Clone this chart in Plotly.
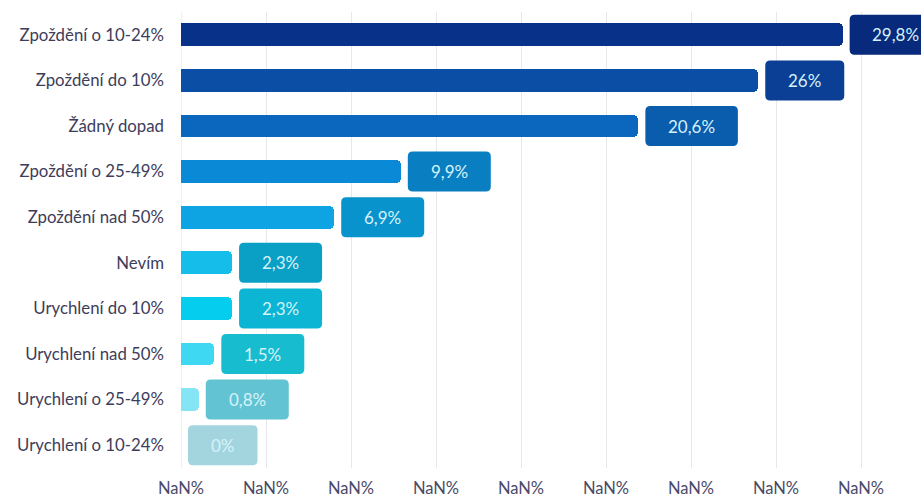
import plotly.graph_objects as go

# Survey answers (top to bottom) and their shares in percent
categories = [
    "Zpoždění o 10-24%",
    "Zpoždění do 10%",
    "Žádný dopad",
    "Zpoždění o 25-49%",
    "Zpoždění nad 50%",
    "Nevím",
    "Urychlení do 10%",
    "Urychlení nad 50%",
    "Urychlení o 25-49%",
    "Urychlení o 10-24%",
]
values = [29.8, 26.0, 20.6, 9.9, 6.9, 2.3, 2.3, 1.5, 0.8, 0.0]
value_labels = ["29,8%", "26%", "20,6%", "9,9%", "6,9%", "2,3%", "2,3%", "1,5%", "0,8%", "0%"]
axis_tick_labels = ["NaN%"] * 9

bar_colors = ["#08318a", "#0b4ea6", "#0b67bd", "#0a8ad6", "#0ea3e3",
              "#14bdea", "#04cdee", "#3ed8f2", "#86e5f5", "#b5eef8"]
badge_colors = ["#072a7c", "#0a3f95", "#0a5cad", "#097fc2", "#0993cc",
                "#0aa0c6", "#0bb5d3", "#17bccf", "#62c4d3", "#a3d5de"]

W, H = 921, 499
M_L, M_R, M_T, M_B = 181, 0, 12, 31
plot_w = W - M_L - M_R
plot_h = H - M_T - M_B
x_max = 33.33                     # axis range in percent
px_x = plot_w / x_max             # pixels per percent
px_y = plot_h / len(categories)   # pixels per row
grid_step = 85 / px_x             # gridline spacing in percent

FONT = "Lato, 'Open Sans', sans-serif"

rows = list(range(len(categories)))

fig = go.Figure()
fig.add_trace(go.Bar(
    y=rows, x=values, orientation="h",
    width=0.5,
    marker=dict(color=bar_colors, cornerradius=5, line=dict(width=0)),
    hoverinfo="skip", showlegend=False,
))


def text_px(label):
    w = 0
    for ch in label:
        if ch.isdigit():
            w += 9.5
        elif ch == ",":
            w += 4
        elif ch == "%":
            w += 13
    return w


def rounded_rect(x0, x1, y0, y1, r_px):
    rx = r_px / px_x
    ry = r_px / px_y
    return (f"M {x0 + rx},{y0} L {x1 - rx},{y0} Q {x1},{y0} {x1},{y0 + ry} "
            f"L {x1},{y1 - ry} Q {x1},{y1} {x1 - rx},{y1} "
            f"L {x0 + rx},{y1} Q {x0},{y1} {x0},{y1 - ry} "
            f"L {x0},{y0 + ry} Q {x0},{y0} {x0 + rx},{y0} Z")


# value badges next to each bar
gap = 7 / px_x
half_h = 0.5 * 40 / px_y
for i, (v, lab) in enumerate(zip(values, value_labels)):
    x0 = v + gap
    x1 = x0 + (text_px(lab) + 47) / px_x
    fig.add_shape(type="path", xref="x", yref="y",
                  path=rounded_rect(x0, x1, i - half_h, i + half_h, 5),
                  fillcolor=badge_colors[i], line=dict(width=0), layer="above")
    fig.add_annotation(x=(x0 + x1) / 2, y=i, xref="x", yref="y", text=lab,
                       showarrow=False,
                       font=dict(family=FONT, size=17, color="#d6f2fb"))

fig.update_layout(
    width=W, height=H,
    margin=dict(l=M_L, r=M_R, t=M_T, b=M_B),
    paper_bgcolor="white", plot_bgcolor="white",
    bargap=0,
    xaxis=dict(
        range=[0, x_max],
        tickvals=[k * grid_step for k in range(len(axis_tick_labels))],
        ticktext=axis_tick_labels,
        showgrid=True, gridcolor="#e8e8ec", gridwidth=1,
        zeroline=False, showline=False,
        tickfont=dict(family=FONT, size=16.5, color="#4a4a68"),
        ticklabelstandoff=8,
        fixedrange=True,
    ),
    yaxis=dict(
        range=[len(categories) - 0.5, -0.5],
        tickvals=rows, ticktext=categories,
        showgrid=False, zeroline=False, showline=False,
        tickfont=dict(family=FONT, size=16.8, color="#3d3d5a"),
        ticklabelstandoff=16,
        fixedrange=True,
    ),
)

# light blue baseline at zero
fig.add_shape(type="line", xref="x", yref="paper", x0=0, x1=0, y0=0, y1=1,
              line=dict(color="#cfe4f2", width=1), layer="below")

fig.write_html("out.html")
